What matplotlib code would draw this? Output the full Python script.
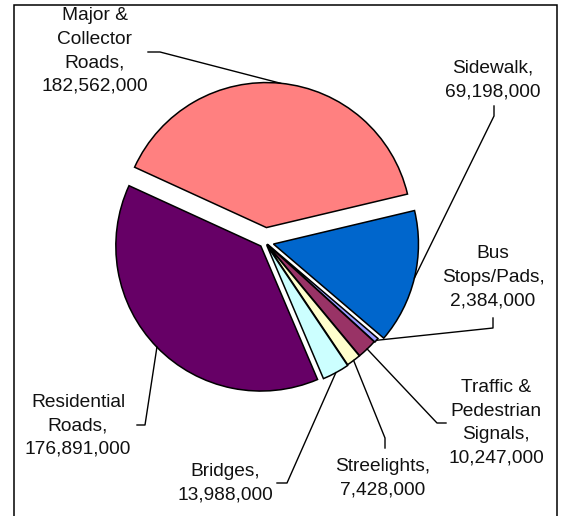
import numpy as np
import matplotlib
matplotlib.use('Agg')
import matplotlib.pyplot as plt
from matplotlib.patches import Rectangle

# data
names = ['Major &\nCollector\nRoads', 'Sidewalk', 'Bus\nStops/Pads',
         'Traffic &\nPedestrian\nSignals', 'Streelights', 'Bridges',
         'Residential\nRoads']
values = [182562000, 69198000, 2384000, 10247000, 7428000, 13988000, 176891000]
colors = ['#FF8080', '#0066CC', '#9999FF', '#993366', '#FFFFCC', '#CCFFFF', '#660066']
explode = [0.10, 0.06, 0.025, 0.02, 0.02, 0.025, 0.04]

W, H = 562, 516
R = 145
plt.rcParams['font.family'] = ['Liberation Sans', 'DejaVu Sans']

fig = plt.figure(figsize=(W / 100, H / 100), dpi=100)
ax = fig.add_axes([0, 0, 1, 1])

wedges, _ = ax.pie(values, colors=colors, explode=[e * R for e in explode],
                   startangle=155.4, counterclock=False, radius=R,
                   center=(265, H - 242),
                   wedgeprops=dict(edgecolor='black', linewidth=1.1))
ax.set_xlim(0, W)
ax.set_ylim(0, H)
ax.axis('off')

# label centre and leader start / elbow, in pixels from top-left
lab_pos = [(95, 51), (493, 80), (493, 277), (496, 423), (383, 478), (225, 483), (78, 426)]
lead = [((148, 52), (160, 52)), ((494, 106), (494, 116)), ((493, 318), (493, 328)),
        ((446, 423), (437, 423)), ((385, 448), (385, 438)), ((277, 483), (287, 483)),
        ((137, 425), (145, 425))]

for w, name, v, (lx, ly), (p0, p1) in zip(wedges, names, values, lab_pos, lead):
    ax.text(lx, H - ly, f'{name},\n{v:,}', ha='center', va='center',
            fontsize=13.8, linespacing=1.5, color='#111111')
    mid = np.deg2rad((w.theta1 + w.theta2) / 2)
    ex = w.center[0] + w.r * np.cos(mid)
    ey = w.center[1] + w.r * np.sin(mid)
    ax.plot([p0[0], p1[0], ex], [H - p0[1], H - p1[1], ey], color='black', lw=1.0)

ax.add_patch(Rectangle((13.5, -20), 543, H - 5 + 20, fill=False,
                       edgecolor='black', lw=1.1, clip_on=False))

fig.savefig('out.png', dpi=100)
